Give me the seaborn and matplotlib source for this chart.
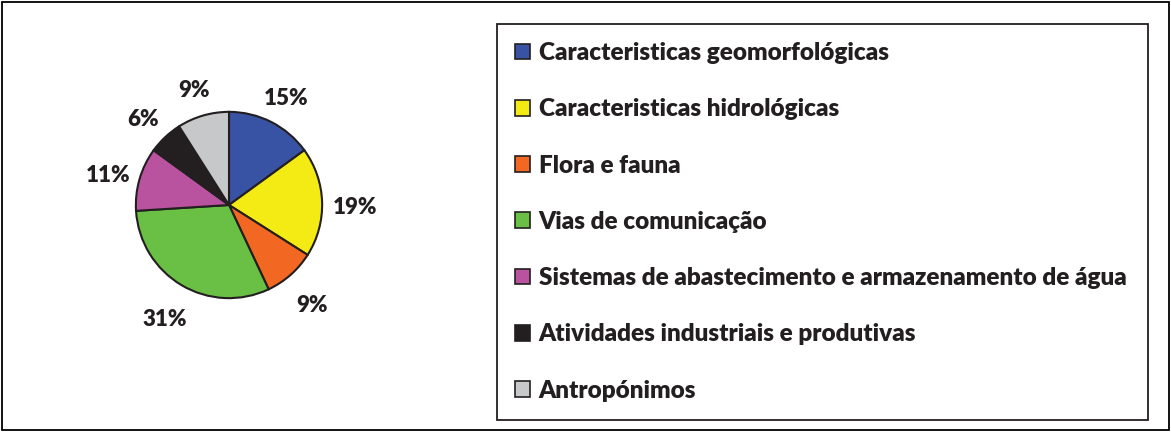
import matplotlib
matplotlib.use("Agg")
import matplotlib.pyplot as plt
import matplotlib.transforms as mtransforms
import seaborn as sns
from matplotlib.patches import Patch, Rectangle

categories = [
    "Caracteristicas geomorfológicas",
    "Caracteristicas hidrológicas",
    "Flora e fauna",
    "Vias de comunicação",
    "Sistemas de abastecimento e armazenamento de água",
    "Atividades industriais e produtivas",
    "Antropónimos",
]
shares = [15, 19, 9, 31, 11, 6, 9]
colors = ["#3953A4", "#F5EB14", "#F26722", "#6ABF45", "#B9529F", "#231F20", "#C7C8CA"]

sns.set_style("white")
plt.rcParams["font.family"] = ["Lato", "DejaVu Sans"]

W, H = 1171, 432
fig = plt.figure(figsize=(W / 100, H / 100), dpi=100)

# outer frame and legend box
fig.patches.append(Rectangle((2 / W, 2 / H), 1 - 4 / W, 1 - 4 / H, transform=fig.transFigure,
                             fill=False, edgecolor="black", linewidth=1.3))
fig.patches.append(Rectangle((497 / W, 12 / H), 651 / W, 396 / H, transform=fig.transFigure,
                             fill=False, edgecolor="#231F20", linewidth=1.3))

cx, cy, r = 229, 205, 95
ax = fig.add_axes([(cx - r) / W, (H - cy - r) / H, 2 * r / W, 2 * r / H])
wedges, texts = ax.pie(
    shares, colors=colors, startangle=90, counterclock=False,
    labels=[f"{v}%" for v in shares], labeldistance=1.35,
    wedgeprops=dict(edgecolor="#231F20", linewidth=1.5),
    textprops=dict(fontsize=16, fontweight="heavy", color="#231F20"),
)
for t in texts:
    t.set_horizontalalignment("center")
    t.set_verticalalignment("center")
    t.set_transform(mtransforms.offset_copy(t.get_transform(), fig=fig, x=0, y=-6, units="dots"))
ax.set_xlim(-1.02, 1.02)
ax.set_ylim(-1.02, 1.02)
ax.axis("off")

handles = [Patch(facecolor=c, edgecolor="#231F20", linewidth=1.2) for c in colors]
leg = fig.legend(
    handles, categories, loc="upper left",
    bbox_to_anchor=(515 / W, 1 - 42 / H),
    frameon=False, borderaxespad=0, borderpad=0,
    prop=dict(family=["Lato", "DejaVu Sans"], weight="heavy", size=17.5),
    handlelength=0.62, handleheight=0.62, handletextpad=0.35,
    labelspacing=1.41,
)
for t in leg.get_texts():
    t.set_color("#231F20")

fig.savefig("out.png", dpi=100)
